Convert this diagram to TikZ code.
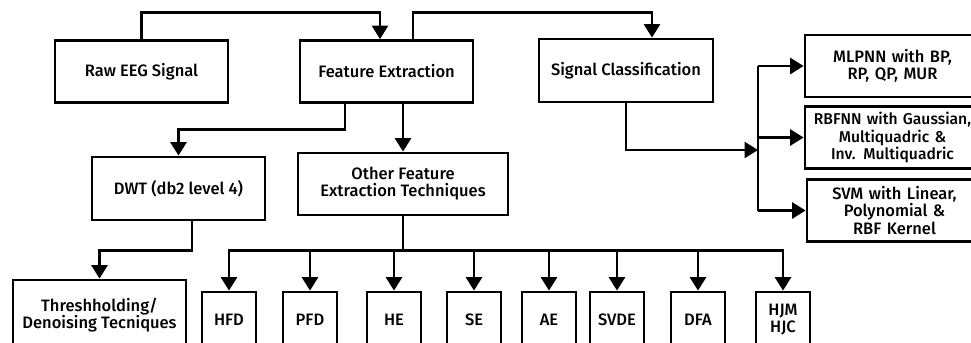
\documentclass[tikz,border=0pt]{standalone}
\usepackage{fontspec}
\setmainfont{Fira Sans}[UprightFont={* Medium}]
\usepackage{tikz}
\usetikzlibrary{arrows.meta,positioning,calc}

\begin{document}
\begin{tikzpicture}[
  x=0.02cm, y=-0.02cm,
  box/.style={rectangle, draw=black, line width=1.6pt, align=center, inner sep=1pt,
    font=\fontsize{9.4}{9.7}\selectfont, minimum width=3.46cm, minimum height=1.24cm},
  tbox/.style={box, minimum width=1.08cm, minimum height=1.12cm},
  cbox/.style={box, text width=3.4cm, minimum width=3.5cm},
  arr/.style={-{Triangle[length=2.7mm, width=3.2mm]}, line width=1.6pt},
  link/.style={line width=1.6pt},
]
\useasboundingbox (0,0) rectangle (971,342);
\clip (0,0) rectangle (971,342);

% ─── Main stages ───
\node[box] (raw) at (141.5, 71.5) {Raw EEG Signal};
\node[box] (fe) at (386.5, 71.5) {Feature Extraction};
\node[box, minimum width=3.48cm, minimum height=1.26cm] (sc) at (626, 70.5) {Signal Classification};

% ─── Feature extraction branches ───
\node[box, minimum height=1.26cm] (dwt) at (178.5, 188.5) {DWT (db2 level 4)};
\node[box, minimum width=4.2cm] (other) at (403, 184) {Other Feature\\Extraction Techniques};
\node[box, minimum height=1.4cm] (thr) at (99.5, 315) {Threshholding/\\Denoising Tecniques};

% Row of techniques
\node[tbox] (hfd) at (229, 320) {HFD};
\node[tbox] (pfd) at (310, 320) {PFD};
\node[tbox] (he) at (394, 320) {HE};
\node[tbox] (se) at (474, 320) {SE};
\node[tbox] (ae) at (549, 320) {AE};
\node[tbox] (svde) at (617, 320) {SVDE};
\node[tbox] (dfa) at (698, 320) {DFA};
\node[tbox] (hjm) at (783, 320) {HJM\\HJC};

% ─── Classifiers ───
\node[cbox] (mlp) at (892.5, 66) {MLPNN with BP,\\RP, QP, MUR};
\node[cbox, font=\fontsize{8.9}{9.7}\selectfont] (rbf) at (892.5, 137.5) {RBFNN with Gaussian,\\Multiquadric \&\\Inv. Multiquadric};
\node[cbox] (svm) at (894.5, 210.5) {SVM with Linear,\\Polynomial \&\\RBF Kernel};

% Connectors
\draw[arr] (raw.north) -- ++(0,-27) -| ($(fe.north)+(-6.5,0)$);
\draw[arr] ($(fe.north)+(26.5,0)$) -- ++(0,-27) -| ($(sc.north)+(26,0)$);
\draw[arr] ($(fe.south)+(-41.5,0)$) -- ++(0,26) -| (dwt.north);
\draw[arr] (other.north |- fe.south) -- (other.north);
\draw[arr] ($(dwt.south)+(13.5,0)$) -- ++(0,29) -| (thr.north);

\draw[link] (other.south) -- ++(0,34) coordinate (obus);
\foreach \t in {hfd, pfd, he, se, ae, svde, dfa, hjm} {
  \draw[arr] (obus) -| (\t.north);
}

\coordinate (cbus) at (758, 150);
\draw[arr] (sc.south) |- (cbus);
\draw[link] (cbus |- mlp.west) -- (cbus |- svm.west);
\foreach \c in {mlp, rbf, svm} {
  \draw[arr] (cbus |- \c.west) -- (\c.west);
}

\end{tikzpicture}
\end{document}
